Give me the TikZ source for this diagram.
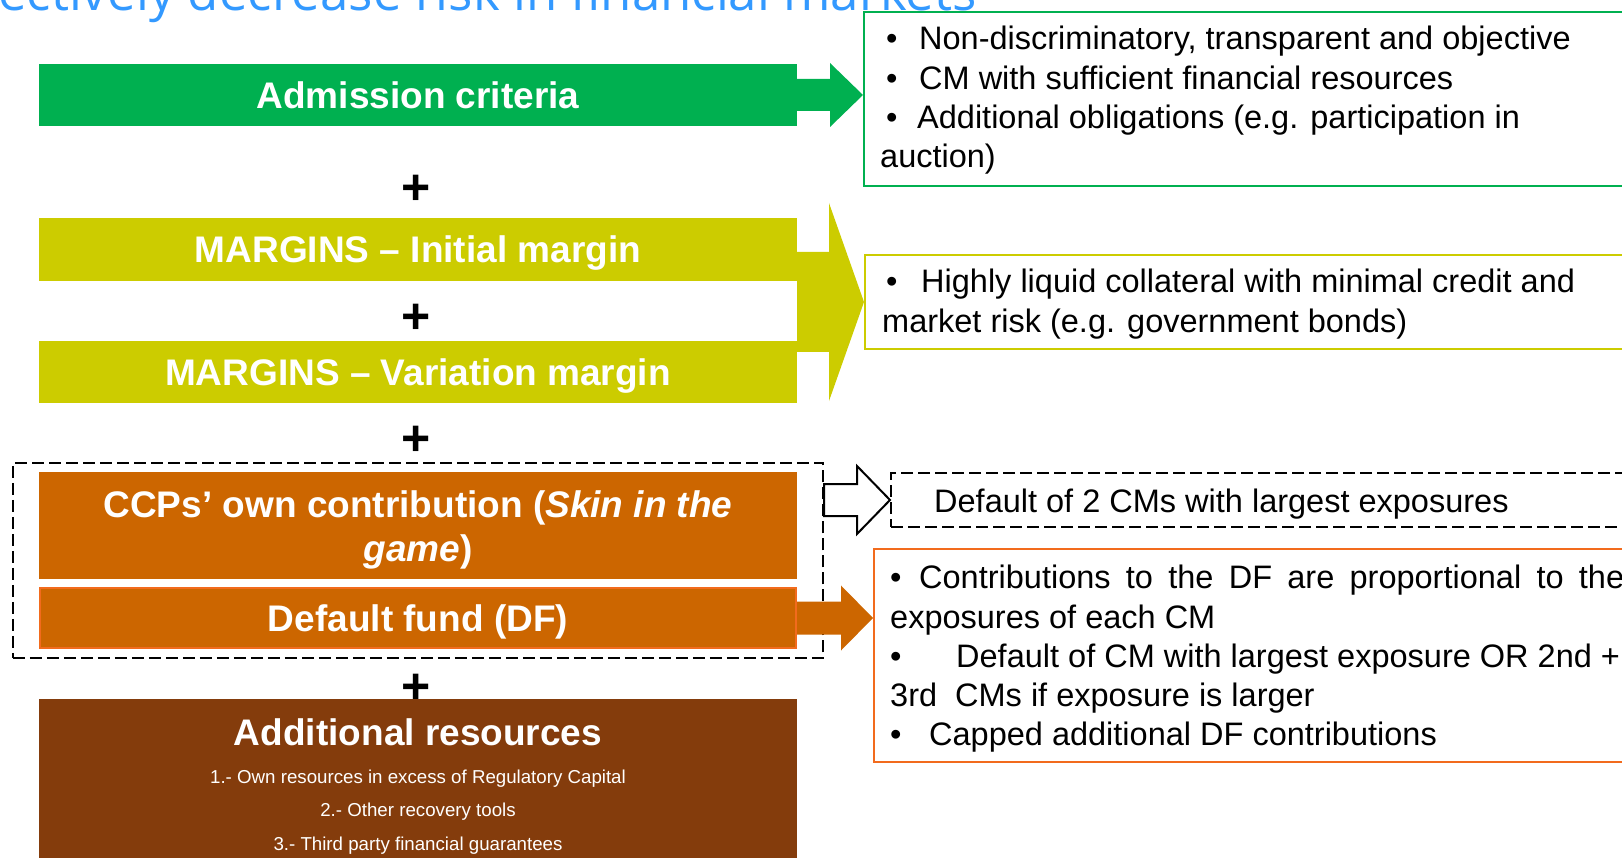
\documentclass[tikz,border=0pt]{standalone}
\usepackage{fontspec}
\setmainfont{Liberation Sans}
\newfontfamily\titlefont{Open Sans}
\usetikzlibrary{calc}
\usetikzlibrary{fit}

\definecolor{admgreen}{HTML}{00B050}
\definecolor{margolive}{HTML}{CCCC00}
\definecolor{dforange}{HTML}{CC6600}
\definecolor{dfedge}{HTML}{F26B1D}
\definecolor{resbrown}{HTML}{843C0C}
\definecolor{titleblue}{HTML}{3399FF}

\tikzset{
	barbox/.style={minimum width=758pt, inner sep=0pt, text=white, align=center,
		font=\fontsize{37}{44}\selectfont\bfseries},
	plussign/.style={inner sep=0pt, font=\fontsize{50}{50}\selectfont\bfseries},
	infobox/.style={anchor=north west, inner sep=0pt, line width=2pt, minimum width=800pt},
	txt/.style={anchor=base west, inner sep=0pt, font=\fontsize{32.5}{39}\selectfont},
	small/.style={anchor=base, inner sep=0pt, text=white, font=\fontsize{18.7}{22}\selectfont},
	fat/.style n args={3}{to path={let \p1=(\tikztostart), \p2=(\tikztotarget) in
		(\x1,\y2+#1) -- (\x2-#3,\y2+#1) -- (\x2-#3,\y2+#2) -- (\tikztotarget)
		-- (\x2-#3,\y2-#2) -- (\x2-#3,\y2-#1) -- (\x1,\y2-#1) -- cycle}}
}

\begin{document}
\begin{tikzpicture}[x=1pt, y=-1pt]
	\useasboundingbox (0,0) rectangle (1622,858);
	\node[anchor=base east, inner sep=0pt, text=titleblue, font=\titlefont\fontsize{51}{56}\selectfont] (title) at (977,11) {effectively decrease risk in financial markets};
	% left column
	\node[barbox, fill=admgreen, minimum height=62pt, text height=26.6pt, text depth=0pt] (adm) at (418,95) {Admission criteria};
	\node[plussign] (p1) at (416,190) {+};
	\node[barbox, fill=margolive, minimum height=63pt, text height=26.6pt, text depth=0pt] (init) at (418,249.5) {MARGINS -- Initial margin};
	\node[plussign] (p2) at (416,319) {+};
	\node[barbox, fill=margolive, minimum height=62pt, text height=26.6pt, text depth=0pt] (var) at (418,372) {MARGINS -- Variation margin};
	\node[plussign] (p3) at (416,441) {+};
	\node[barbox, fill=dforange, minimum height=107pt] (ccp) at (418,525.5) {};
	\node[barbox] (ccpt) at (418,529.5) {CCPs’ own contribution (\textit{Skin in the}\\\textit{game})};
	\node[barbox, fill=dforange, draw=dfedge, line width=2pt, minimum width=756pt, minimum height=60pt, text height=26.6pt, text depth=0pt] (df) at (418,618) {Default fund (DF)};
	\node[draw, dash pattern=on 12pt off 5pt, line width=2pt, inner xsep=26pt, inner ysep=9pt, fit=(ccp)(df)] (grp) {};
	\node[plussign] (p4) at (416,689) {+};
	\node[barbox, fill=resbrown, minimum height=171pt] (addl) at (418,784.5) {};
	\node[barbox, text height=26.6pt, text depth=0pt] (addlt) at (418,732) {Additional resources};
	\node[small] (addl1) at (418,783) {1.- Own resources in excess of Regulatory Capital};
	\node[small] (addl2) at (418,816) {2.- Other recovery tools};
	\node[small] (addl3) at (418,850) {3.- Third party financial guarantees};
	% right column
	\node[infobox, draw=admgreen, minimum height=174pt] (crit) at (863,11) {};
	\node[txt] (c1) at (886,50) {\makebox[33pt][l]{•}Non-discriminatory, transparent and objective};
	\node[txt] (c2) at (886,90) {\makebox[33pt][l]{•}CM with sufficient financial resources};
	\node[txt] (c3) at (886,129) {\makebox[31pt][l]{•}Additional obligations (e.g. participation in};
	\node[txt] (c4) at (880,168) {auction)};
	\node[infobox, draw=margolive, minimum height=94pt] (coll) at (864,254) {};
	\node[txt] (m1) at (886,293) {\makebox[35pt][l]{•}Highly liquid collateral with minimal credit and};
	\node[txt] (m2) at (882,333) {market risk (e.g. government bonds)};
	\node[infobox, draw, dash pattern=on 12pt off 5pt, minimum height=54pt] (dflt) at (890,472) {};
	\node[txt] (d0) at (934,512) {Default of 2 CMs with largest exposures};
	\node[infobox, draw=dfedge, minimum height=213pt] (dfbox) at (873,548) {};
	\node[txt] (f1) at (890,588) {\makebox[29pt][l]{•}\makebox[705pt][s]{Contributions to the DF are proportional to the}};
	\node[txt] (f2) at (890,628) {exposures of each CM};
	\node[txt] (f3) at (890,667) {\makebox[66pt][l]{•}Default of CM with largest exposure OR 2nd +};
	\node[txt] (f4) at (890,706) {3rd\ \ CMs if exposure is larger};
	\node[txt] (f5) at (890,745) {\makebox[39pt][l]{•}Capped additional DF contributions};
	% block arrows
	\fill[admgreen] (adm.east) to[fat={16pt}{32pt}{33pt}] (crit.west |- adm.east);
	\fill[margolive] (init.east) to[fat={50pt}{99pt}{35pt}] (coll.west);
	\draw[line width=2pt, fill=white] (grp.east) to[fat={16pt}{34pt}{33pt}] (dflt.west);
	\fill[dforange] (df.east) to[fat={16.5pt}{32.5pt}{32pt}] (dfbox.west |- df.east);
\end{tikzpicture}
\end{document}
